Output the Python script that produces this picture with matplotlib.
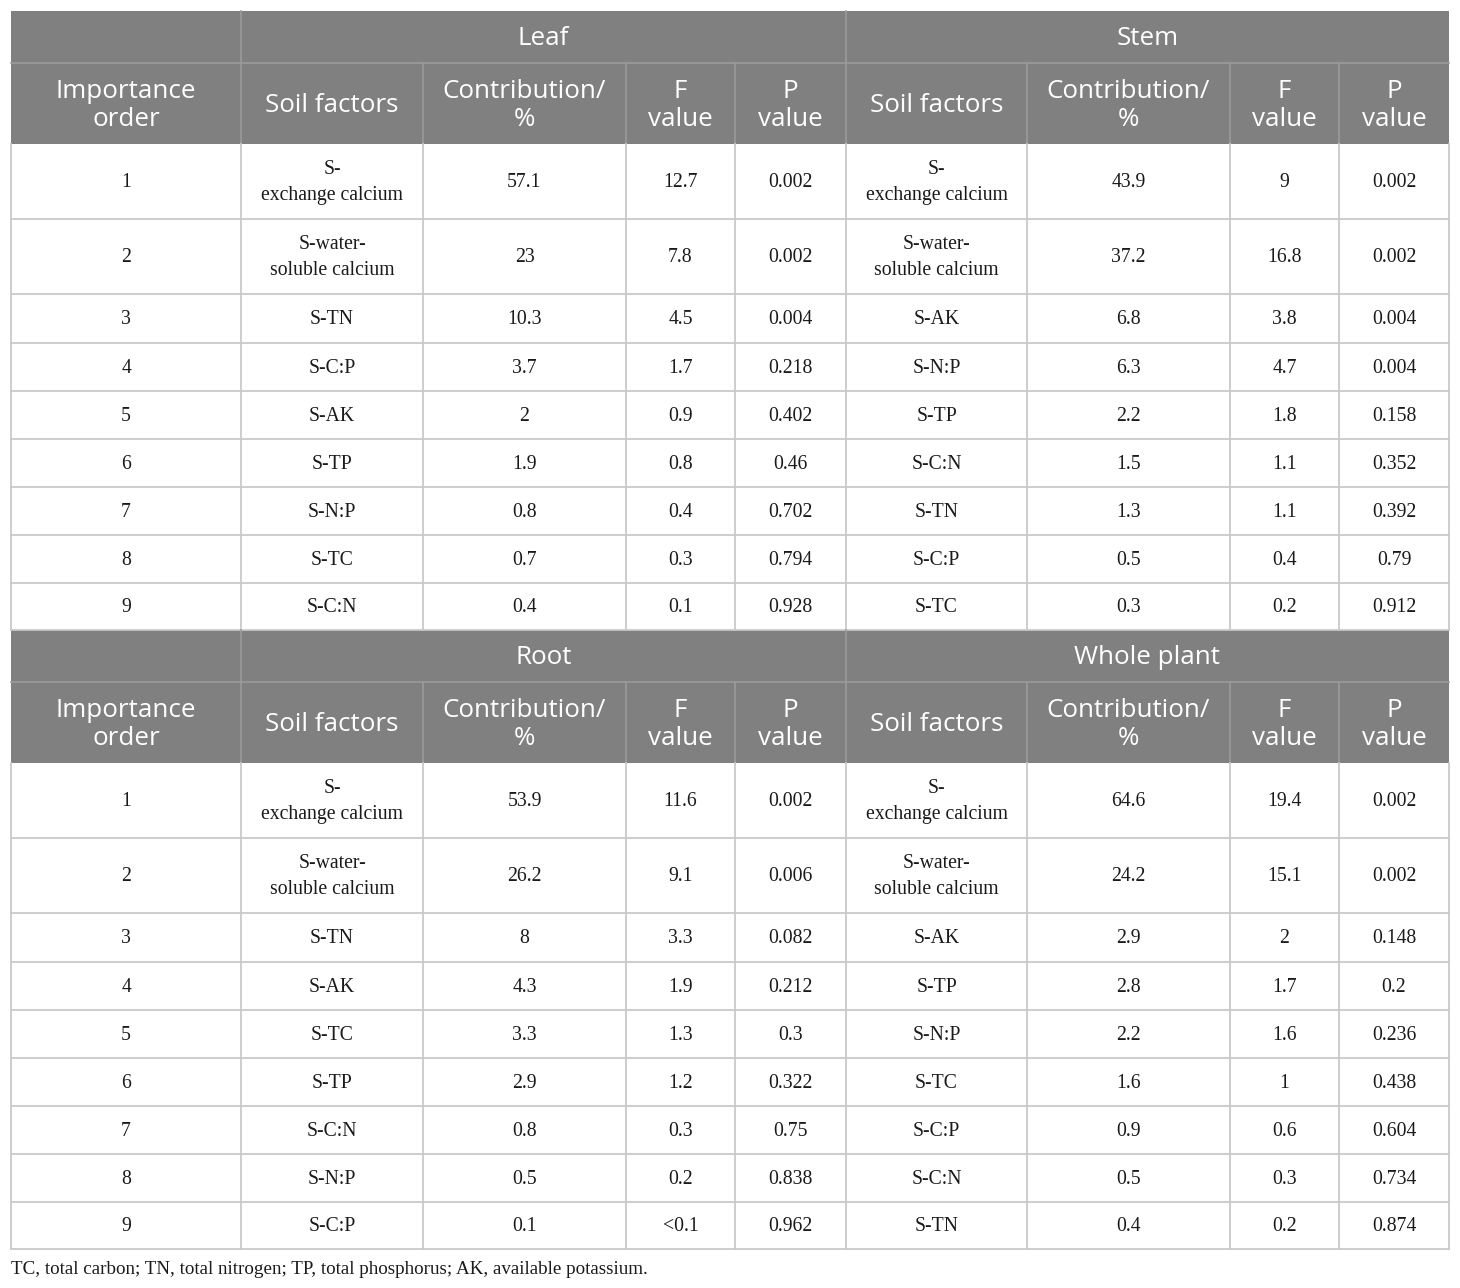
import matplotlib
matplotlib.use("Agg")
import matplotlib.pyplot as plt
from matplotlib.patches import Rectangle

# ---------------- data ----------------
groups_top = ["Leaf", "Stem"]
groups_bottom = ["Root", "Whole plant"]
col_headers = ["Importance\norder", "Soil factors", "Contribution/\n%", "F\nvalue", "P\nvalue",
               "Soil factors", "Contribution/\n%", "F\nvalue", "P\nvalue"]
order = ["1", "2", "3", "4", "5", "6", "7", "8", "9"]

leaf_factors = ["S-\nexchange calcium", "S-water-\nsoluble calcium", "S-TN", "S-C:P", "S-AK",
                "S-TP", "S-N:P", "S-TC", "S-C:N"]
leaf_contrib = ["57.1", "23", "10.3", "3.7", "2", "1.9", "0.8", "0.7", "0.4"]
leaf_f = ["12.7", "7.8", "4.5", "1.7", "0.9", "0.8", "0.4", "0.3", "0.1"]
leaf_p = ["0.002", "0.002", "0.004", "0.218", "0.402", "0.46", "0.702", "0.794", "0.928"]

stem_factors = ["S-\nexchange calcium", "S-water-\nsoluble calcium", "S-AK", "S-N:P", "S-TP",
                "S-C:N", "S-TN", "S-C:P", "S-TC"]
stem_contrib = ["43.9", "37.2", "6.8", "6.3", "2.2", "1.5", "1.3", "0.5", "0.3"]
stem_f = ["9", "16.8", "3.8", "4.7", "1.8", "1.1", "1.1", "0.4", "0.2"]
stem_p = ["0.002", "0.002", "0.004", "0.004", "0.158", "0.352", "0.392", "0.79", "0.912"]

root_factors = ["S-\nexchange calcium", "S-water-\nsoluble calcium", "S-TN", "S-AK", "S-TC",
                "S-TP", "S-C:N", "S-N:P", "S-C:P"]
root_contrib = ["53.9", "26.2", "8", "4.3", "3.3", "2.9", "0.8", "0.5", "0.1"]
root_f = ["11.6", "9.1", "3.3", "1.9", "1.3", "1.2", "0.3", "0.2", "<0.1"]
root_p = ["0.002", "0.006", "0.082", "0.212", "0.3", "0.322", "0.75", "0.838", "0.962"]

whole_factors = ["S-\nexchange calcium", "S-water-\nsoluble calcium", "S-AK", "S-TP", "S-N:P",
                 "S-TC", "S-C:P", "S-C:N", "S-TN"]
whole_contrib = ["64.6", "24.2", "2.9", "2.8", "2.2", "1.6", "0.9", "0.5", "0.4"]
whole_f = ["19.4", "15.1", "2", "1.7", "1.6", "1", "0.6", "0.3", "0.2"]
whole_p = ["0.002", "0.002", "0.148", "0.2", "0.236", "0.438", "0.604", "0.734", "0.874"]

footnote = "TC, total carbon; TN, total nitrogen; TP, total phosphorus; AK, available potassium."

# ---------------- layout ----------------
W, H = 1460, 1288
fig = plt.figure(figsize=(W / 100, H / 100), dpi=100)
ax = fig.add_axes([0, 0, 1, 1])
ax.set_xlim(0, W)
ax.set_ylim(H, 0)
ax.axis("off")

xs = [11, 241, 423, 626, 735, 846, 1027, 1230, 1339, 1449]
HEAD_BG = "#7f807f"
HEAD_LINE = "#9a9b9a"
GRID = "#c9c9c9"
TXT = "#1a1a1a"
SANS = ["Open Sans", "DejaVu Sans"]
SERIF = ["Liberation Serif", "DejaVu Serif"]


def panel(y0, groups, left, right):
    g_top, g_bot = y0, y0 + 52
    h_bot = g_bot + 81
    heights = [75, 75, 49, 48, 48, 48, 48, 48, 47]
    ys = [h_bot]
    for hh in heights:
        ys.append(ys[-1] + hh)
    ax.add_patch(Rectangle((xs[0], g_top), xs[-1] - xs[0], h_bot - g_top,
                           facecolor=HEAD_BG, edgecolor="none", zorder=1))
    ax.plot([xs[0], xs[-1]], [g_bot, g_bot], color=HEAD_LINE, lw=1.2, zorder=2)
    for x in [xs[1], xs[5]]:
        ax.plot([x, x], [g_top, h_bot], color=HEAD_LINE, lw=1.2, zorder=2)
    for x in xs[2:5] + xs[6:9]:
        ax.plot([x, x], [g_bot, h_bot], color=HEAD_LINE, lw=1.2, zorder=2)
    ax.text((xs[1] + xs[5]) / 2, (g_top + g_bot) / 2 + 1, groups[0], color="white",
            family=SANS, fontsize=18.7, ha="center", va="center", zorder=3)
    ax.text((xs[5] + xs[9]) / 2, (g_top + g_bot) / 2 + 1, groups[1], color="white",
            family=SANS, fontsize=18.7, ha="center", va="center", zorder=3)
    for i, lab in enumerate(col_headers):
        ax.text((xs[i] + xs[i + 1]) / 2, (g_bot + h_bot) / 2 + 2, lab, color="white",
                family=SANS, fontsize=18.7, ha="center", va="center", linespacing=1.17,
                zorder=3)
    for y in ys[1:]:
        ax.plot([xs[0], xs[-1]], [y, y], color=GRID, lw=1.3, zorder=2)
    for x in xs:
        ax.plot([x, x], [h_bot, ys[-1]], color=GRID, lw=1.3, zorder=2)
    cols = [order] + list(left) + list(right)
    for r in range(9):
        yc = (ys[r] + ys[r + 1]) / 2 + 1
        for c in range(9):
            ax.text((xs[c] + xs[c + 1]) / 2, yc, cols[c][r], color=TXT,
                    family=SERIF, fontsize=14.2, ha="center", va="center",
                    linespacing=1.57, zorder=3)
    return ys[-1]


bottom1 = panel(11, groups_top, [leaf_factors, leaf_contrib, leaf_f, leaf_p],
                [stem_factors, stem_contrib, stem_f, stem_p])
bottom2 = panel(bottom1, groups_bottom, [root_factors, root_contrib, root_f, root_p],
                [whole_factors, whole_contrib, whole_f, whole_p])

ax.text(xs[0], bottom2 + 20, footnote, color=TXT, family=SERIF, fontsize=13.7,
        ha="left", va="center")

fig.savefig("out.png", dpi=100, facecolor="white")
